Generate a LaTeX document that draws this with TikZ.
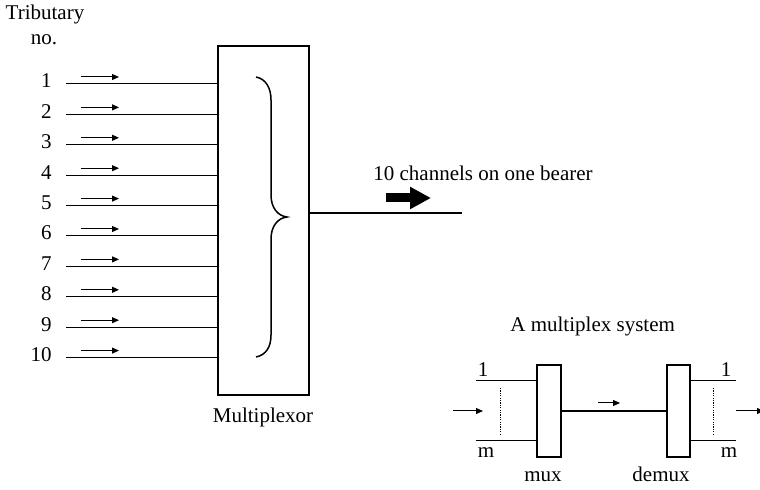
\documentclass[tikz,border=0pt]{standalone}
\usepackage{fontspec}
\setmainfont{Liberation Serif}
\usetikzlibrary{arrows.meta,calc,positioning}
\tikzset{
  every node/.style={font=\fontsize{10.5}{12.5}\selectfont, inner sep=0pt},
  muxbox/.style={draw, line width=1pt, fill=white},
  feed/.style={line width=0.5pt},
  flowarrow/.style={line width=0.5pt, -{Triangle[length=3.5pt,width=3pt]}},
  bearerline/.style={line width=1pt},
  dotline/.style={line width=0.4pt, dash pattern=on 0.6pt off 0.6pt},
}

\begin{document}
\begin{tikzpicture}[x=0.5pt, y=-0.5pt]
\useasboundingbox (0,0) rectangle (760,490);
% multiplexor and its tributaries
\node[muxbox, minimum width=45.5pt, minimum height=174.5pt] (mplex) at (263.5,220.5) {};
\node[anchor=base] (mplexlabel) at (263,423) {Multiplexor};
\node[anchor=base] (trib) at (45,20) {Tributary};
\node[anchor=base] (tribno) at (44,45) {no.};
\foreach \i in {1,...,10}{
  \pgfmathsetmacro\ty{84+(\i-1)*30.4}
  \coordinate (in\i) at (66,\ty);
  \node[anchor=base east] (num\i) at (52,\ty+4) {\i};
  \draw[feed] (in\i) -- (in\i -| mplex.west);
  \draw[flowarrow] ($(in\i)+(15,-7)$) -- ++(38,0);
}
\draw[line width=0.75pt] (256,77) .. controls (266,79) and (271,88) .. (271,100) -- (271,195)
  .. controls (271,208) and (278,216) .. (287,217) .. controls (278,218) and (271,226) .. (271,239)
  -- (271,335) .. controls (271,347) and (266,355) .. (256,357);
% the bearer
\coordinate (bearer) at (462,213);
\draw[bearerline] (mplex.east |- bearer) -- (bearer);
\node[anchor=base west] (bearertext) at (373,181) {10 channels on one bearer};
\coordinate (bigarrow) at (386,198);
\draw[line width=4.5pt, -{Triangle[length=10.5pt,width=10.5pt]}] (bigarrow) -- ++(45,0);
% small system
\node[anchor=base west] (systitle) at (510,332) {A multiplex system};
\node[muxbox, minimum width=12pt, minimum height=46pt] (mux) at (549,411) {};
\node[muxbox, minimum width=11.5pt, minimum height=46pt] (demux) at (678.5,411) {};
\draw[bearerline] (mux) -- (demux);
\coordinate (midarrow) at (598,403);
\draw[flowarrow] (midarrow) -- ++(22,0);
\coordinate (lone) at (476,381);
\coordinate (lm) at (476,441);
\draw[feed] (lone) -- (lone -| mux.west);
\draw[feed] (lm) -- (lm -| mux.west);
\draw[dotline] (500,388) -- (500,434);
\coordinate (inarrow) at (453,411);
\draw[flowarrow] (inarrow) -- ++(30,0);
\coordinate (rone) at (736,381);
\coordinate (rm) at (736,441);
\draw[feed] (demux.east |- rone) -- (rone);
\draw[feed] (demux.east |- rm) -- (rm);
\draw[dotline] (713,388) -- (713,434);
\coordinate (outarrow) at (736,411);
\draw[flowarrow] (outarrow) -- ++(28,0);
\node[anchor=base] (lonelabel) at (483,377) {1};
\node[anchor=base] (lmlabel) at (486,458) {m};
\node[anchor=base] (ronelabel) at (726,377) {1};
\node[anchor=base] (rmlabel) at (729,458) {m};
\node[anchor=base] (muxlabel) at (543,482) {mux};
\node[anchor=base] (demuxlabel) at (661,482) {demux};
\end{tikzpicture}
\end{document}
